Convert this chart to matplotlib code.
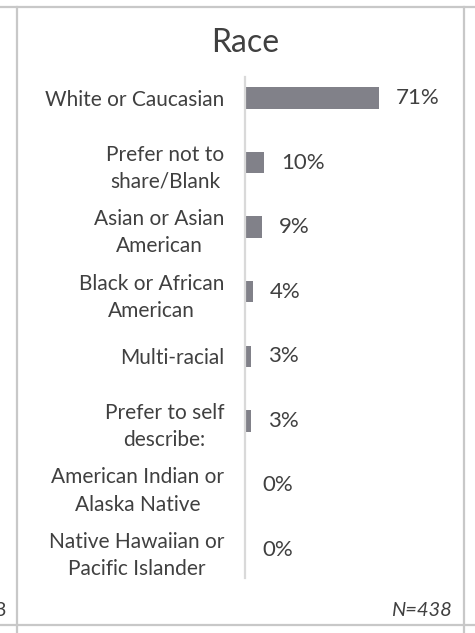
import matplotlib.pyplot as plt
from matplotlib.lines import Line2D

categories = ['White or Caucasian', 'Prefer not to\nshare/Blank', 'Asian or Asian\nAmerican',
              'Black or African\nAmerican', 'Multi-racial', 'Prefer to self\ndescribe:',
              'American Indian or\nAlaska Native', 'Native Hawaiian or\nPacific Islander']
percent = [71, 10, 9, 4, 3, 3, 0, 0]
n_total = 438

plt.rcParams['font.family'] = ['Lato', 'DejaVu Sans']
txt = '#404040'

W, H = 475, 633
fig = plt.figure(figsize=(W / 100, H / 100), dpi=100)
ax = fig.add_axes([245 / W, 1 - 582.3 / H, 195 / W, 516.6 / H])

y = list(range(len(categories)))
ax.barh(y, percent, height=0.33, color='#818189')
ax.set_xlim(0, 195 / 1.89)
ax.set_ylim(7.5, -0.5)

for yi, v in zip(y, percent):
    ax.annotate(f'{v}%', (v, yi), xytext=(12.2, 0), textcoords='offset points',
                va='center', ha='left', fontsize=16, color=txt)

ax.set_yticks(y)
ax.set_yticklabels(categories, fontsize=15, color=txt, multialignment='center',
                   linespacing=1.45)
ax.tick_params(axis='y', length=0, pad=15)
ax.set_xticks([])
for s in ['top', 'right', 'bottom']:
    ax.spines[s].set_visible(False)
ax.spines['left'].set_color('#d9d9d9')
ax.spines['left'].set_linewidth(1.6)
ax.spines['left'].set_bounds(-0.325, 7.43)

fig.text(245 / W, 1 - 43 / H, 'Race', ha='center', va='center', fontsize=23, color=txt)
fig.text(452 / W, 1 - 610 / H, f'N={n_total}', ha='right', va='center', fontsize=14.5,
         style='italic', color=txt)
# edge of the neighbouring panel's label
fig.text(-6 / W, 1 - 610 / H, '3', ha='left', va='center', fontsize=14, color=txt)

# surrounding frame lines
frame = '#c8c8c8'
fig.add_artist(Line2D([0, 1], [1 - 7 / H] * 2, color=frame, lw=1.6))
fig.add_artist(Line2D([0, 1], [1 - 625 / H] * 2, color=frame, lw=1.6))
fig.add_artist(Line2D([17 / W] * 2, [0, 1 - 7 / H], color=frame, lw=1.6))
fig.add_artist(Line2D([464 / W] * 2, [0, 1 - 7 / H], color=frame, lw=1.6))

fig.savefig('out.png', dpi=100)
